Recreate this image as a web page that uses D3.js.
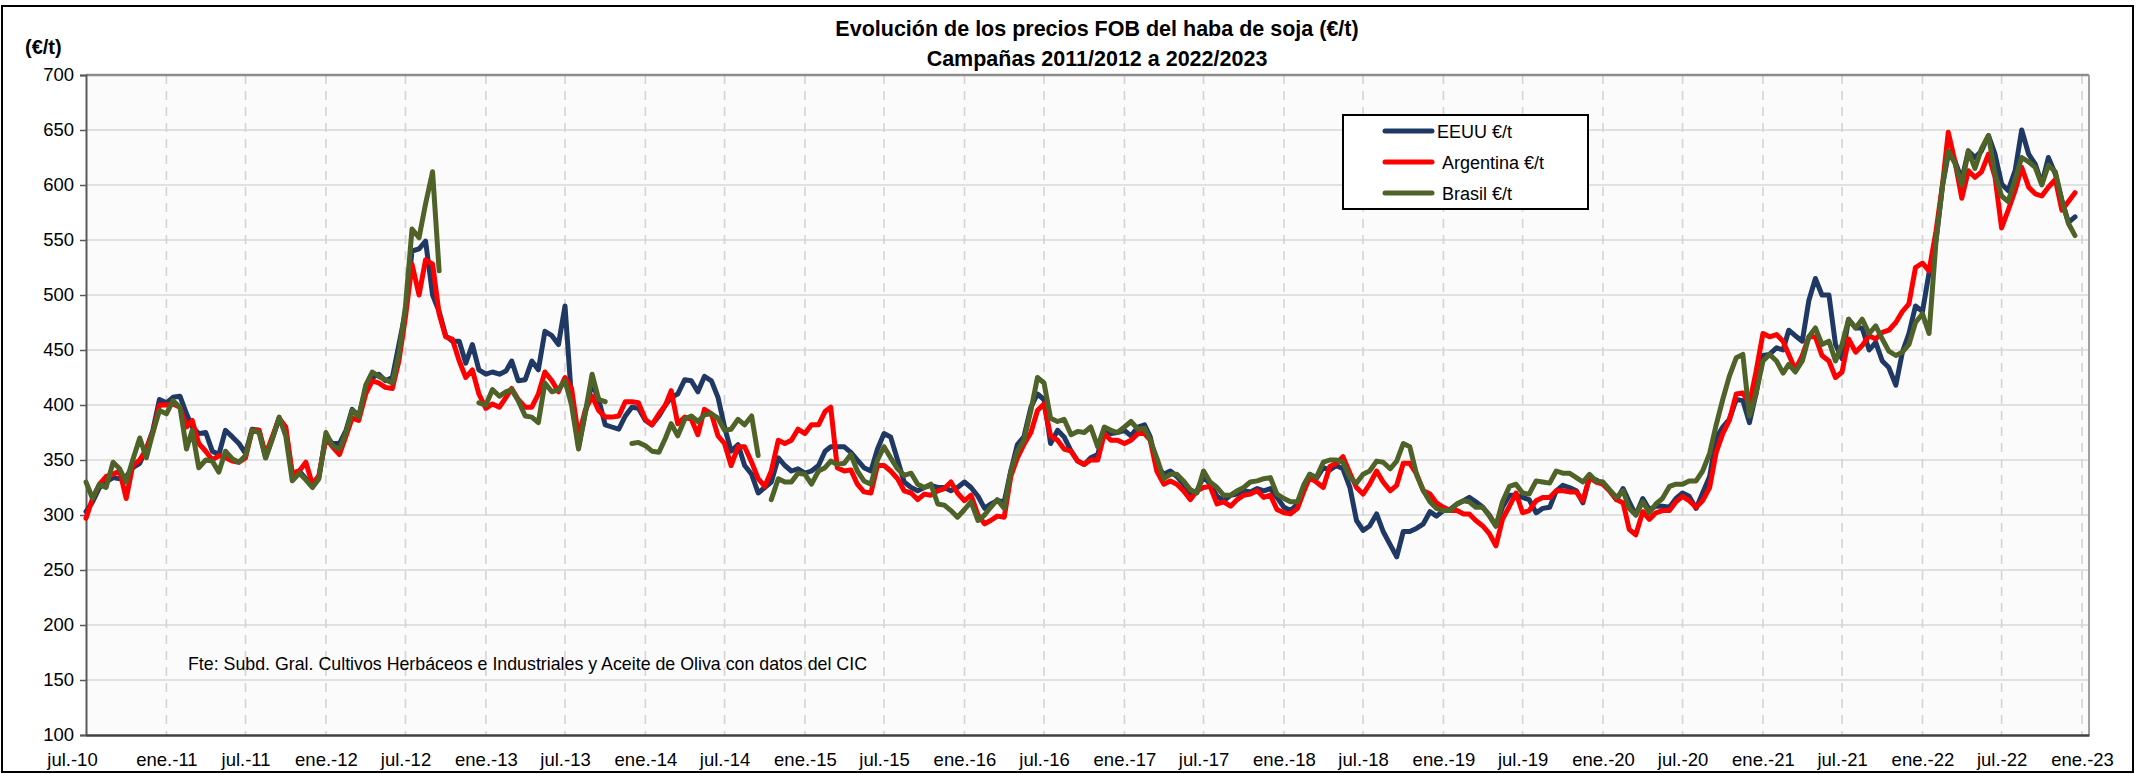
<!DOCTYPE html>
<html><head><meta charset="utf-8">
<script src="https://cdn.jsdelivr.net/npm/d3@7"></script>
<style>
body{margin:0;background:#fff}
svg{display:block}
text{font-family:"Liberation Sans",Arial,sans-serif;fill:#000}
</style>
</head><body>
<svg id="chart" width="2140" height="774"></svg>
<script>
// ---------------- data ----------------
const titleLines = ["Evolución de los precios FOB del haba de soja (€/t)", "Campañas 2011/2012 a 2022/2023"];
const yUnitLabel = "(€/t)";
const sourceNote = "Fte: Subd. Gral. Cultivos Herbáceos e Industriales y Aceite de Oliva con datos del CIC";
const seriesNames = ["EEUU €/t", "Argentina €/t", "Brasil €/t"];
const seriesColors = ["#1f3864", "#ff0000", "#4f6228"];
const firstMonth = "2010-07";          // first month of the series
const daysOfMonth = [1, 16];           // two quotes per month
const yTickValues = [100,150,200,250,300,350,400,450,500,550,600,650,700];
const xTickLabels = ["jul.-10","ene.-11","jul.-11","ene.-12","jul.-12","ene.-13","jul.-13","ene.-14","jul.-14","ene.-15","jul.-15","ene.-16","jul.-16","ene.-17","jul.-17","ene.-18","jul.-18","ene.-19","jul.-19","ene.-20","jul.-20","ene.-21","jul.-21","ene.-22","jul.-22","ene.-23"];

const eeuu = [
303,312,325,330,334,333,335,343,347,360,377,405,
402,407,408,392,380,374,375,358,355,377,371,365,
356,378,377,352,370,388,378,335,340,333,326,335,
372,365,365,377,396,390,415,425,428,422,425,455,
485,540,542,549,500,485,463,458,458,438,455,432,
428,430,428,431,440,422,423,440,432,467,463,455,
490,405,362,392,420,405,382,380,378,390,398,397,
386,382,390,400,407,410,423,422,412,426,422,407,
380,358,364,345,337,320,325,330,352,345,340,342,
338,340,345,358,362,362,362,357,350,343,340,360,
374,371,350,330,325,322,325,327,325,325,322,325,
330,325,317,306,310,313,312,340,364,371,398,410,
405,365,377,371,358,349,346,352,355,377,374,375,
377,372,380,382,371,345,337,340,335,328,319,322,
335,328,317,313,318,319,322,321,324,322,324,316,
307,304,310,323,337,333,343,341,345,342,325,295,
286,290,301,285,273,262,285,285,288,292,303,299,
304,305,310,313,316,312,307,300,290,307,318,318,
316,314,302,306,307,322,327,325,322,311,334,332,
328,322,314,324,312,300,315,305,308,308,307,315,
320,317,306,320,335,370,380,387,405,404,384,410,
445,446,452,450,468,463,458,495,515,500,500,455,
442,478,470,470,450,457,440,434,418,448,465,490,
485,520,550,600,628,622,605,631,625,631,645,628,
601,595,613,650,628,619,601,625,610,586,566,571
];
const argentina = [
297,315,328,335,337,340,315,345,350,360,375,400,
400,401,398,380,386,365,358,350,354,352,349,348,
352,377,377,355,372,388,380,338,340,348,328,336,
370,362,355,372,388,386,410,422,420,416,415,440,
480,528,500,532,528,483,462,460,440,425,432,410,
397,401,398,407,415,405,398,398,410,430,422,412,
425,415,371,395,408,395,389,389,390,403,403,402,
387,382,392,400,413,383,389,387,373,396,392,372,
365,345,362,362,348,333,326,340,368,365,368,378,
374,382,382,394,398,343,340,341,328,321,320,345,
345,340,333,322,320,314,319,318,322,324,330,320,
313,318,300,292,295,299,298,335,352,364,375,395,
401,372,368,360,358,349,346,350,350,374,368,368,
365,368,374,374,368,340,328,331,328,322,314,322,
325,326,310,312,308,314,318,319,322,316,318,305,
302,301,306,322,334,330,325,344,347,353,338,325,
319,328,340,330,322,327,347,347,337,322,319,311,
307,304,304,301,301,295,290,283,272,296,308,320,
302,304,313,316,316,322,322,321,321,313,334,330,
328,322,314,311,287,282,303,296,302,304,304,312,
317,313,307,313,325,357,374,386,410,411,401,430,
465,462,464,458,446,432,445,462,462,445,440,425,
430,460,448,454,463,460,466,468,475,485,492,525,
529,522,558,601,648,622,588,613,607,612,628,607,
561,577,595,616,598,592,590,598,605,577,585,593
];
const brasil = [
330,315,328,325,348,342,330,350,370,352,375,395,
392,404,398,360,377,343,350,349,339,358,351,348,
354,377,375,352,370,389,372,331,338,332,325,333,
375,363,360,375,395,389,418,430,426,423,420,446,
490,560,552,583,612,522,null,null,null,null,null,402,
400,414,408,412,414,404,390,389,384,420,412,414,
422,400,360,392,428,405,403,null,null,null,365,366,
363,358,357,370,383,372,387,390,385,391,392,388,
377,378,387,382,390,354,null,314,333,330,330,338,
337,328,340,343,349,346,347,355,340,331,328,350,
362,352,342,336,338,328,325,328,310,309,304,298,
305,312,295,300,307,314,306,340,358,368,395,425,
420,388,385,387,373,376,375,380,362,380,377,375,
380,385,378,379,368,352,333,337,337,331,323,320,
340,330,325,318,318,322,325,330,331,333,334,319,
315,312,312,328,337,334,348,350,350,348,334,329,
337,340,349,348,342,349,365,362,336,322,312,306,
304,304,310,313,312,307,307,299,290,312,326,328,
320,319,331,330,329,340,338,338,334,330,337,331,
330,323,316,322,306,300,312,302,310,315,326,328,
328,331,331,340,356,382,405,426,443,446,390,410,
440,446,440,429,437,430,440,462,470,455,458,440,
455,478,470,478,465,472,460,449,445,448,455,475,
483,465,549,600,631,620,600,631,615,633,645,610,
590,585,605,625,621,616,600,618,612,586,565,554
];

// ---------------- build ----------------
const parseMonth = d3.timeParse("%Y-%m");
const m0 = parseMonth(firstMonth);
const dates = d3.range(eeuu.length).map(i => {
  const m = d3.timeMonth.offset(m0, Math.floor(i / daysOfMonth.length));
  return new Date(m.getFullYear(), m.getMonth(), daysOfMonth[i % daysOfMonth.length]);
});
const seriesValues = [eeuu, argentina, brasil];

const P = {left: 86, right: 2089, top: 75, bottom: 735};
const svg = d3.select("#chart");

const x = d3.scaleTime()
  .domain([new Date(2010, 6, 1), new Date(2023, 0, 17)])
  .range([P.left, P.right]);
const y = d3.scaleLinear().domain([100, 700]).range([P.bottom, P.top]);
const xTickDates = d3.timeMonth.every(6).range(new Date(2010, 6, 1), new Date(2023, 0, 2));

// outer frame
svg.append("rect").attr("x", 2).attr("y", 6).attr("width", 2131).attr("height", 766)
  .attr("fill", "#fff").attr("stroke", "#000").attr("stroke-width", 2);

// plot background
svg.append("rect").attr("x", P.left).attr("y", P.top)
  .attr("width", P.right - P.left).attr("height", P.bottom - P.top).attr("fill", "#fbfbfb");

// horizontal grid
svg.append("g").selectAll("line").data(yTickValues.filter(v => v > 100 && v < 700)).join("line")
  .attr("x1", P.left).attr("x2", P.right).attr("y1", d => y(d)).attr("y2", d => y(d))
  .attr("stroke", "#d9d9d9").attr("stroke-width", 1.5);

// vertical dashed grid
svg.append("g").selectAll("line").data(xTickDates.slice(1)).join("line")
  .attr("x1", d => x(d)).attr("x2", d => x(d)).attr("y1", P.top).attr("y2", P.bottom)
  .attr("stroke", "#d4d4d4").attr("stroke-width", 1.6).attr("stroke-dasharray", "9,7");

// borders
svg.append("line").attr("x1", P.left).attr("x2", P.right).attr("y1", P.top).attr("y2", P.top)
  .attr("stroke", "#8c8c8c").attr("stroke-width", 2.5);
svg.append("line").attr("x1", P.right).attr("x2", P.right).attr("y1", P.top).attr("y2", P.bottom)
  .attr("stroke", "#a0a0a0").attr("stroke-width", 2);

// y axis
const yAxis = d3.axisLeft(y).tickValues(yTickValues).tickSize(6).tickPadding(6);
const gy = svg.append("g").attr("transform", `translate(${P.left},0)`).call(yAxis);
gy.select(".domain").attr("stroke", "#595959").attr("stroke-width", 2);
gy.selectAll(".tick line").attr("stroke", "#595959").attr("stroke-width", 1.5);
gy.selectAll(".tick text").attr("font-size", 18.5).attr("font-family", "Liberation Sans, Arial, sans-serif").attr("fill", "#000");

// x axis
const xAxis = d3.axisBottom(x).tickValues(xTickDates).tickSize(0).tickPadding(18)
  .tickFormat((d, i) => xTickLabels[i]);
const gx = svg.append("g").attr("transform", `translate(0,${P.bottom})`).call(xAxis);
gx.select(".domain").attr("stroke", "#404040").attr("stroke-width", 2.5);
gx.selectAll(".tick text").attr("font-size", 18.5).attr("font-family", "Liberation Sans, Arial, sans-serif").attr("fill", "#000")
  .attr("dx", (d, i) => i === 0 ? -14 : 0);

// lines
const line = d3.line().defined(d => d[1] != null)
  .x(d => x(d[0])).y(d => y(d[1]));
seriesValues.forEach((vals, k) => {
  svg.append("path")
    .datum(vals.map((v, i) => [dates[i], v]))
    .attr("d", line)
    .attr("fill", "none").attr("stroke", seriesColors[k]).attr("stroke-width", 5)
    .attr("stroke-linejoin", "round").attr("stroke-linecap", "round");
});

// title
svg.append("g").selectAll("text").data(titleLines).join("text")
  .attr("x", 1097).attr("y", (d, i) => 36 + i * 30)
  .attr("text-anchor", "middle").attr("font-weight", "bold").attr("font-size", 21.5)
  .text(d => d);

// unit label
svg.append("text").attr("x", 25).attr("y", 54).attr("font-weight", "bold").attr("font-size", 20).text(yUnitLabel);

// source note
svg.append("text").attr("x", 188).attr("y", 670).attr("font-size", 17.8).text(sourceNote);

// legend
const lg = svg.append("g");
lg.append("rect").attr("x", 1343).attr("y", 115).attr("width", 245).attr("height", 94)
  .attr("fill", "#fff").attr("stroke", "#000").attr("stroke-width", 2);
seriesNames.forEach((n, k) => {
  const ly = 131 + k * 31;
  lg.append("line").attr("x1", 1385).attr("x2", 1432).attr("y1", ly).attr("y2", ly)
    .attr("stroke", seriesColors[k]).attr("stroke-width", 5).attr("stroke-linecap", "round");
  lg.append("text").attr("x", k === 0 ? 1437 : 1442).attr("y", ly + 6.5).attr("font-size", 18).text(n);
});
</script>
</body></html>
